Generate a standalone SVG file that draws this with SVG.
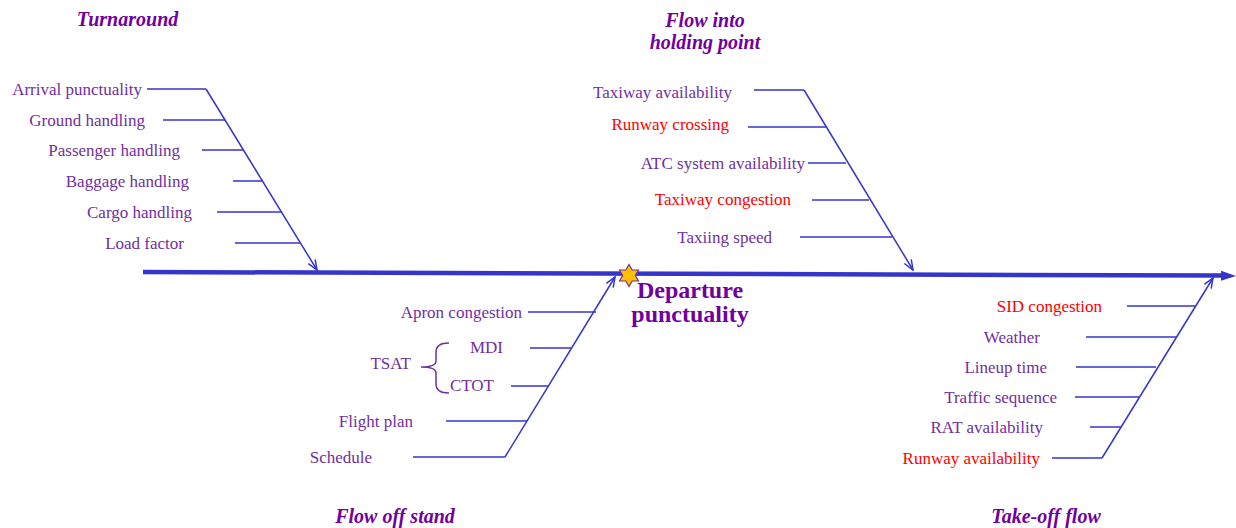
<svg xmlns="http://www.w3.org/2000/svg" width="1236" height="528" viewBox="0 0 1236 528">
<style>
.t{font-family:"Liberation Serif","Times New Roman",serif;font-size:17px;fill:#7030A0;text-anchor:end}
.r{fill:#FF0000}
.h{font-family:"Liberation Serif","Times New Roman",serif;font-size:20px;font-weight:bold;font-style:italic;fill:#7000A0;text-anchor:middle}
.m{font-family:"Liberation Serif","Times New Roman",serif;font-size:24px;font-weight:bold;fill:#7000A0;text-anchor:middle}
.b{stroke:#3535CC;stroke-width:1.5;fill:none}
.rib{stroke:#3535CC;stroke-width:1.5}
</style>
<defs>
<marker id="v" viewBox="0 0 12 10" refX="11" refY="5" markerWidth="12" markerHeight="10" markerUnits="userSpaceOnUse" orient="auto">
<path d="M1,1 L11,5 L1,9" fill="none" stroke="#3535CC" stroke-width="1.5"/>
</marker>
</defs>
<rect width="1236" height="528" fill="#FFFFFF"/>
<g id="connectors">
<line x1="143" y1="272" x2="1224" y2="275.6" stroke="#3535CC" stroke-width="4.5"/>
<polygon points="1236,276 1221,270.8 1221,280.8" fill="#3535CC"/>
<line class="b" x1="206" y1="89" x2="317" y2="270" marker-end="url(#v)"/>
<line class="b" x1="804" y1="90" x2="913" y2="270" marker-end="url(#v)"/>
<line class="b" x1="505" y1="457" x2="615" y2="277" marker-end="url(#v)"/>
<line class="b" x1="1102" y1="458" x2="1213" y2="278" marker-end="url(#v)"/>
<line class="rib" x1="147" y1="89" x2="206" y2="89"/>
<line class="rib" x1="163" y1="120" x2="225" y2="120"/>
<line class="rib" x1="202" y1="150" x2="243" y2="150"/>
<line class="rib" x1="233" y1="181" x2="262" y2="181"/>
<line class="rib" x1="217" y1="212" x2="281" y2="212"/>
<line class="rib" x1="235" y1="243" x2="300" y2="243"/>
<line class="rib" x1="754" y1="90" x2="804" y2="90"/>
<line class="rib" x1="748" y1="127" x2="826" y2="127"/>
<line class="rib" x1="808" y1="163" x2="846" y2="163"/>
<line class="rib" x1="812" y1="200" x2="869" y2="200"/>
<line class="rib" x1="800" y1="237" x2="892" y2="237"/>
<line class="rib" x1="528" y1="312" x2="596" y2="312"/>
<line class="rib" x1="530" y1="348" x2="571" y2="348"/>
<line class="rib" x1="511" y1="386" x2="548" y2="386"/>
<line class="rib" x1="446" y1="421" x2="527" y2="421"/>
<line class="rib" x1="413" y1="457" x2="505" y2="457"/>
<line class="rib" x1="1127" y1="306" x2="1195" y2="306"/>
<line class="rib" x1="1086" y1="337" x2="1177" y2="337"/>
<line class="rib" x1="1076" y1="367" x2="1156" y2="367"/>
<line class="rib" x1="1075" y1="397" x2="1139" y2="397"/>
<line class="rib" x1="1090" y1="427" x2="1121" y2="427"/>
<line class="rib" x1="1052" y1="458" x2="1102" y2="458"/>
</g>
<g id="effect">
<polygon points="629,264.5 632.18,270 638.53,270 635.35,275.5 638.53,281 632.18,281 629,286.5 625.82,281 619.47,281 622.65,275.5 619.47,270 625.82,270" fill="#FFC000" stroke="#7030A0" stroke-width="1.2"/>
<text class="m" x="690" y="298">Departure</text>
<text class="m" x="690" y="322">punctuality</text>
</g>
<g id="cat-turnaround"><text class="h" x="127.5" y="26">Turnaround</text></g>
<g id="cat-flow-into"><text class="h" x="705" y="27">Flow into</text><text class="h" x="705" y="49">holding point</text></g>
<g id="cat-flow-off"><text class="h" x="395" y="523">Flow off stand</text></g>
<g id="cat-takeoff"><text class="h" x="1046" y="523">Take-off flow</text></g>
<g id="arrival-punctuality"><text class="t" x="142" y="95">Arrival punctuality</text></g>
<g id="ground-handling"><text class="t" x="145" y="126">Ground handling</text></g>
<g id="passenger-handling"><text class="t" x="180" y="156">Passenger handling</text></g>
<g id="baggage-handling"><text class="t" x="189" y="187">Baggage handling</text></g>
<g id="cargo-handling"><text class="t" x="192" y="218">Cargo handling</text></g>
<g id="load-factor"><text class="t" x="184" y="249">Load factor</text></g>
<g id="taxiway-availability"><text class="t" x="732" y="98">Taxiway availability</text></g>
<g id="runway-crossing"><text class="t r" x="729" y="130">Runway crossing</text></g>
<g id="atc-system"><text class="t" x="805" y="169">ATC system availability</text></g>
<g id="taxiway-congestion"><text class="t r" x="791" y="205">Taxiway congestion</text></g>
<g id="taxiing-speed"><text class="t" x="772" y="243">Taxiing speed</text></g>
<g id="apron-congestion"><text class="t" x="522" y="318">Apron congestion</text></g>
<g id="mdi"><text class="t" x="503" y="353">MDI</text></g>
<g id="ctot"><text class="t" x="494" y="391">CTOT</text></g>
<g id="tsat"><text class="t" x="411" y="369">TSAT</text>
<path d="M449,343 Q436,343 436,352 L436,361 Q436,367 421,367 Q436,367 436,373 L436,384 Q436,393 449,393" fill="none" stroke="#7030A0" stroke-width="1.5"/></g>
<g id="flight-plan"><text class="t" x="413" y="427">Flight plan</text></g>
<g id="schedule"><text class="t" x="372" y="463">Schedule</text></g>
<g id="sid-congestion"><text class="t r" x="1102" y="312">SID congestion</text></g>
<g id="weather"><text class="t" x="1040" y="343">Weather</text></g>
<g id="lineup-time"><text class="t" x="1047" y="373">Lineup time</text></g>
<g id="traffic-sequence"><text class="t" x="1057" y="403">Traffic sequence</text></g>
<g id="rat-availability"><text class="t" x="1043" y="433">RAT availability</text></g>
<g id="runway-availability"><text class="t r" x="1040" y="464">Runway availability</text></g>
</svg>
